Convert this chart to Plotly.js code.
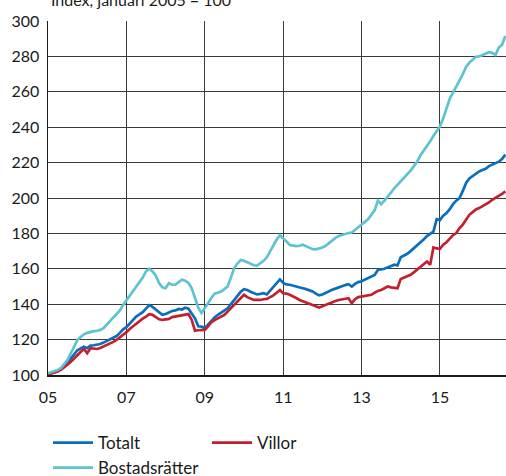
<!DOCTYPE html>
<html>
<head>
<meta charset="utf-8">
<script src="https://cdn.plot.ly/plotly-3.0.1.min.js"></script>
<style>
html,body{margin:0;padding:0;background:#fff;}
#chart{width:506px;height:476px;}
</style>
</head>
<body>
<div id="chart"></div>
<script>
// Monthly index, January 2005 = 100 (Jan 2005 - Sep 2016)
const startYear = 2005;
const totalt = [
  100.5, 101, 101.5, 102.2, 103.3, 104.7, 107, 109.2, 111.8, 114, 115, 116,
  115.2, 116.6, 116.8, 117, 117.5, 118.3, 119.2, 120.2, 121, 122, 123.8, 125.8,
  127, 129, 131, 133, 134.2, 135.5, 137.5, 139.5, 138.5, 137, 135, 134,
  134.5, 135.5, 136.2, 136.5, 137.3, 137, 138, 137.5, 135, 132, 127.5, 127.3,
  126.5, 128.5, 131, 132.5, 134, 135.3, 136.5, 137.7, 140, 142.5, 145, 147,
  148.5, 148, 147, 146.2, 145.5, 145.8, 146.2, 145.5, 147.5, 149.5, 151.5, 154,
  152, 151.2, 151, 150.4, 150, 149.5, 149, 148.5, 147.8, 147.2, 146, 145,
  145.5, 146.5, 147.5, 148.2, 148.8, 149.6, 150.3, 150.8, 151.3, 150, 151.5, 152.5,
  153, 153.8, 154.7, 155.6, 156.5, 159.3, 159.6, 160, 160.8, 161.6, 162.3, 161.9,
  166.5, 167.5, 168.5, 170, 171.5, 173, 175, 176.5, 178.5, 180, 181, 188,
  187.5, 190, 191.5, 193.7, 196.5, 198.5, 200, 204, 208.5, 211, 212.5, 214,
  215, 215.8, 216.5, 218, 218.8, 219.5, 220.5, 222, 224.5
];
const villor = [
  100.3, 100.8, 101.3, 102, 103, 104.3, 106, 107.5, 109.5, 111.5, 113, 114.7,
  112.3, 115.1, 114.9, 114.7, 115.3, 116.1, 116.8, 117.7, 118.7, 119.8, 121.2, 123,
  124.2, 126, 127.5, 129.2, 130.5, 131.8, 133, 134.4, 134, 132.7, 131.5, 131.1,
  131.5, 131.7, 132.7, 133, 133.5, 134, 134.2, 134.4, 131.1, 125, 125.3, 125.5,
  125.5, 127.5, 129.8, 131, 132, 133, 134, 135.8, 137.5, 139.6, 141.5, 143.5,
  145.3, 144, 143, 142.4, 142.5, 142.4, 142.8, 143, 144, 145, 146.5, 148,
  146.2, 146, 145.3, 144.5, 143.5, 142.4, 141.8, 141, 140.2, 139.5, 138.8, 138.1,
  138.8, 139.6, 140.6, 141.2, 141.8, 142.4, 142.8, 143.2, 143.4, 140.6, 142.8, 144,
  144.3, 144.8, 145, 145.3, 146.5, 147.5, 148, 148.8, 150, 149.5, 149.3, 149,
  154.3, 155, 155.8, 156.6, 158, 159.5, 161.3, 162.8, 164.1, 162.3, 172, 171.5,
  171.3, 173.6, 175, 177, 179, 180.2, 183, 185, 188, 190.5, 192, 193.5,
  194.3, 195.3, 196.5, 197.5, 199, 200, 201, 202.3, 203.8
];
const bostadsratter = [
  101, 101.5, 102, 102.8, 104, 106, 108.5, 112.3, 116, 119.8, 121.5, 123,
  123.8, 124.5, 124.8, 125, 125.5, 126.5, 128.5, 131, 132.5, 134.5, 136.5, 139.5,
  142, 144.5, 147, 150, 152.5, 155, 158.5, 160, 158.5, 156.2, 152, 149.5,
  149, 151.9, 151, 151, 152.5, 153.8, 153.3, 152, 149, 144, 138, 135,
  137.5, 140.5, 143.5, 146, 146.5, 147.2, 148.5, 150, 155, 160.4, 163, 165,
  164.5, 163.8, 163, 162, 161.8, 163.2, 164.5, 166.5, 170, 173, 176.5, 179,
  177.5, 175.5, 173.5, 173, 172.8, 173, 173.6, 172.8, 172, 171.1, 171, 171.3,
  172, 173, 174.5, 176.4, 177.5, 178.5, 179.2, 179.8, 180.2, 180.5, 182, 183.5,
  185, 186.5, 188, 190.5, 193, 198.5, 196.5, 198.5, 200.5, 203, 205.5, 207.5,
  209.5, 211, 213, 215.5, 218, 220.5, 224, 226.5, 229.5, 232, 235, 238,
  240.5, 245, 250, 256, 259.5, 263.5, 266.5, 270, 274, 276.5, 278, 279.8,
  280, 280.8, 281.5, 282.4, 282, 280.8, 285, 286.5, 291.5
];
const seriesNames = ["Totalt", "Villor", "Bostadsrätter"];
const tickYears = [2005, 2007, 2009, 2011, 2013, 2015];
const tickLabels = ["05", "07", "09", "11", "13", "15"];
const yTicks = [100, 120, 140, 160, 180, 200, 220, 240, 260, 280, 300];
const titleText = "Index, januari 2005 = 100";

const months = totalt.map((_, i) => startYear + i / 12);
const font = "Lato, 'Open Sans', sans-serif";

const traces = [
  {x: months, y: totalt, name: seriesNames[0], line: {color: "#0A6EBD", width: 2.7}},
  {x: months, y: villor, name: seriesNames[1], line: {color: "#C3202F", width: 2.7}},
  {x: months, y: bostadsratter, name: seriesNames[2], line: {color: "#5CC3D0", width: 2.7}}
].map(t => Object.assign({type: "scatter", mode: "lines", hoverinfo: "skip"}, t));

const layout = {
  width: 506, height: 476,
  margin: {l: 48, r: 0, t: 21, b: 101},
  paper_bgcolor: "#fff", plot_bgcolor: "#fff",
  font: {family: font, size: 16, color: "#1a1a1a"},
  showlegend: true,
  legend: {
    orientation: "h", xref: "paper", x: 0, xanchor: "left",
    yref: "container", y: 0.107, yanchor: "top",
    entrywidth: 104, entrywidthmode: "pixels",
    font: {family: font, size: 17, color: "#1a1a1a"},
    bgcolor: "rgba(0,0,0,0)", traceorder: "normal", itemwidth: 40
  },
  xaxis: {
    range: [2005, 2016.685], tickmode: "array", tickvals: tickYears, ticktext: tickLabels,
    showgrid: true, gridcolor: "#3a3a3a", gridwidth: 1,
    showline: true, linecolor: "#1a1a1a", linewidth: 1.5,
    ticks: "", zeroline: false, ticklabelstandoff: 7,
    tickfont: {family: font, size: 16, color: "#1a1a1a"}
  },
  yaxis: {
    range: [100, 300], tickmode: "array", tickvals: yTicks,
    showgrid: true, gridcolor: "#3a3a3a", gridwidth: 1,
    showline: true, linecolor: "#1a1a1a", linewidth: 1.5,
    ticks: "", zeroline: false, ticklabelstandoff: 4,
    tickfont: {family: font, size: 16, color: "#1a1a1a"}
  },
  annotations: [{
    text: titleText, xref: "paper", yref: "paper", x: 0.002, y: 1.062,
    xanchor: "left", yanchor: "middle", showarrow: false,
    font: {family: font, size: 16, color: "#1a1a1a"}
  }]
};

Plotly.newPlot("chart", traces, layout, {staticPlot: true, displayModeBar: false});
</script>
</body>
</html>
